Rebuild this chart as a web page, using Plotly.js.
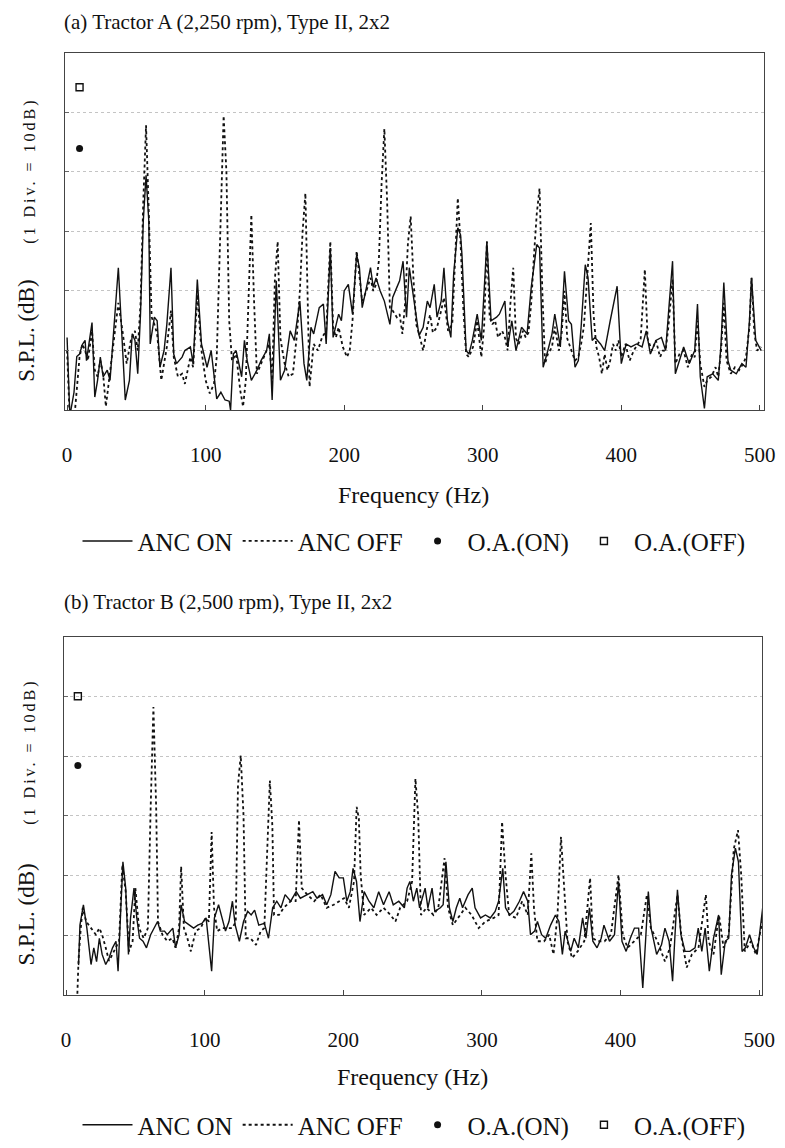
<!DOCTYPE html>
<html>
<head>
<meta charset="utf-8">
<script src="https://cdn.plot.ly/plotly-3.0.1.min.js"></script>
<style>html,body{margin:0;padding:0;background:#fff;}#chart{width:785px;height:1148px;}</style>
</head>
<body>
<div id="chart"></div>
<script>
// ---------- DATA (dB relative, 10 dB per division) ----------
const seriesNames = ["ANC ON", "ANC OFF", "O.A.(ON)", "O.A.(OFF)"];
const panelTitles = ["(a) Tractor A (2,250 rpm), Type II, 2x2", "(b) Tractor B (2,500 rpm), Type II, 2x2"];
const xTickVals = [0, 100, 200, 300, 400, 500];
const xTickText = ["0", "100", "200", "300", "400", "500"];

// Panel (a) ANC ON
const freqA_on = [0,1,2,5,7,9,11,13,14,18,20,22,24,26,29,31,33,37,39,42,45,47,49,51,53,55,57,59,60,63,65,67,70,72,75,77,79,83,85,89,91,94,97,101,104,108,111,114,117,118,120,122,126,128,130,133,137,140,144,146,148,151,154,157,161,164,168,171,173,176,178,182,185,187,190,192,196,198,200,203,206,209,211,213,215,217,219,221,223,226,229,233,235,238,240,242.5,245,247,249,252,254,257,260,262,265,267,270,272,274.5,277,279,282,284,285,288,290,292.5,296,299,303,306,310,312,316,318,321,324,328,332,335,339,341,343.6,347,350,352,356,359,362,364,366.6,369,371,374,376,379,381,385,388,392,394,397,400,403.5,407,411,415,418,421,425,429,432,434,437,439,442,445,449,453,455,457,460,462,466,470,472,474,477,479,483,487,490,492.5,494,497,501];
const splA_on = [12.2,5,-1,3,9,9.4,11,11.7,8.3,14.7,2.2,5,8.9,5.6,6.7,5,11.7,23.9,15,1.7,5,12.8,11.7,6.1,16.1,31.7,39.4,31.7,11.1,15.6,15,7.2,10,14.4,23.9,9.4,7.8,8.9,10,10.6,7.8,21.9,11.1,7.2,10,1.9,3,1.7,1.5,0,9.4,10,5.6,11.7,8.3,5,6.7,8.3,10,12.8,1.7,21.7,5,6.7,13.3,11.7,18.3,7.8,5,13.9,12.8,17.2,17.8,11.1,27.2,12.2,16.1,15,20,21.1,16.1,26.1,23.9,17.2,19.4,21.7,23.9,20.6,22.2,20,18.3,14.4,18.9,20.6,21.7,25,15.6,23.9,20.6,15,12.5,13.9,18.3,17.2,21.1,15.6,18.3,23.9,15,12.2,22.8,30.6,29.4,26.1,10,9.4,11.7,16.1,11.7,28.3,15,15.6,16.1,18.3,10.6,15,10,13.9,12.8,20.6,27.8,27.2,7.2,10,12.8,16.1,10.6,23.3,15,14.4,7.2,8.3,13.9,24.4,22.2,11.7,12.2,11.1,10,15,17.2,20.8,7.8,11.1,10.6,11.1,10.6,13.3,9.4,11.7,12.2,10,16.1,25,6.1,8.3,10.6,7.8,10,17.8,5.6,0.3,5.6,6.1,5,11.1,21.4,8.3,6.7,6.1,7.8,7.2,15,22.2,11.7,10];

// Panel (a) ANC OFF
const freqA_off = [0,2,5,7,9,11,13,15,18,20,22,24,26,28,30,33,37,40,43,46,49,51,53,55,57,59,61,63,65,68,70,72,75,77,80,83,85,87,89,91,94,97,100,103,106,108,110,112,113,115,117,119,122,125,127,129,131,133,135,137,140,143,146,148,150,152,154,157,160,163,166,168,170,172,174,175,178,181,184,187,190,192,194,196,199,202,204,206,209,211,213,216,219,221,223,225,227,229,231,233,235,238,240,242,244,246,248,250,252,254,257,260,262,264,267,270,272,275,278,280,282,284,286,288,290,293,296,299,301,303,305,307,309,311,314,316,318,320,322,324,326,329,331,333,335,337,339,341,343,345,347,350,352,355,357,359,361,364,366.6,369,371,373,376,378,380,382,384,386,388,390,392,394,396,398,400,403,406,409,412,414,417,419,422,425,428,430,432,434,437,439,442,445,448,451,453,455,457,460,462,465,468,470,472,474,476,479,482,485,488,490,492.5,494,496,498,501];
const splA_off = [10,-2,-2,4,8.9,11.1,10,8.3,13.3,6.7,5.6,8.3,6.1,0.6,4.4,10.6,18,13.3,7.8,11.7,13.3,10,17.8,35,47.8,33,15.6,14.4,12.8,5,7.8,10.6,16.7,8.9,5.6,6.1,4.4,6.7,8.9,7.2,19.4,10,5,2.8,4.4,8.9,25,45,49.4,40,15,8.3,9.4,3.3,0.6,5,20,32.8,18,6.1,7.8,9.4,11.1,5,22,28.3,12,7.8,5.6,6.1,13,20,30,36.4,15,3.9,11.1,10,12.2,13.3,28.3,14,12.2,13.9,10.6,8.9,10,15,26.7,22,18.3,20,22.2,20,21.1,25,38,47.2,35,17,16.7,15.6,16.1,12.8,18,28,32.5,22,14.4,12.8,10,14,16,13,13.9,16.7,18.9,13.3,14.4,25,35.6,28,17,9.4,8.9,10.6,15,8.9,14,28.3,15.6,14.4,15,12.2,13.3,12.2,10,18,23.9,12,11.1,13.3,12.2,13,18,26,33,37.2,20,7.8,9.4,10.6,14,10,13,20,12,10,8.3,8.9,11.1,14,24,31.4,16,10.6,8.9,6.1,9.4,6.7,8.3,11.1,10,11.7,8.9,11.1,8.3,10,11.1,12,23.6,12,10,11.7,8.9,10,10,14,22,7.8,9.4,10,7.2,9.4,8.9,15,7.8,3.9,5,5.6,7.2,5.6,10,18,8.3,6.1,7.2,6.7,7.8,8.9,14,22.2,13,10,10.6];

// Panel (b) ANC ON
const freqB_on = [9,10,12.5,15,18,20,22,24,26,28.6,31,33.5,36,37.5,39.5,41,43,45,46.5,49,51,53,55.5,58,61,63.5,66,68,71,73,77,79,81.5,83,85.5,89,92,95,98,101,105,107,110,112.5,115,117.5,120,122,125,128,131,133.5,136,139,143,146,149,152,155,158,162,166,169,174,178,181,185,188,191,194,197,200,202.5,205,207,209.5,212,215,218.5,222,225.5,229,233,236,240,244,246,248,250.5,253,255,259,261,264,266,270,272,274,276.5,279,281.5,284,286,290,293,295,299,302.5,306,309.5,312,315,317,320,323,327,330,333,335,338,340,343,346,349.5,353,355.5,358,360,364,366.5,369.5,372.6,375,377.5,380,383,386,388,392,395.6,398.5,401,404,407,410,413,416,418,420,422,426,429.5,432,435,437.5,439,441,443.5,446.5,450,453.7,456,458.6,461,464,467,470.7,472.6,475.5,478,480,482.8,485,487.6,490,493,496,498.5,501,502.5];
const splB_on = [5,11.7,15.1,11.2,5.1,7.9,5.6,9.5,6.8,5.1,6.2,7.9,9,4,14.6,22.3,17.9,6.8,12.9,17.9,12.9,9.5,9,7.9,10.1,11.2,12.3,10.7,10.7,10.1,11.2,7.9,10.1,15.1,12.3,11.7,11.2,11.7,12,12.9,4,12.9,15.1,12.9,10.7,12.3,15.7,11.7,9,12.3,14,13.4,14.2,11.7,12,9.5,14.6,15.7,14.6,16.8,15.7,17.3,16.2,16.8,17.3,16.2,16.8,15.1,16.8,20.7,19.6,19.6,15.7,17.3,21.2,19,12.3,17.3,15.7,14.6,17.3,15.1,17.3,15.1,15.7,14.6,17.9,19,15.7,17.9,14.6,17.9,14.6,17.9,14,14.6,15.1,22.3,14.6,12.3,14.6,16.2,14.6,16.8,17.9,14.6,12.9,13.4,12.9,14,15.7,21.2,14.6,13.4,14,15.7,17.3,15.7,10.1,10.7,12.3,10.1,9.5,11.7,13.4,12.3,6.8,10.7,7.3,9.5,7.9,12.9,9.5,14.6,9,7.9,9.5,11.7,9,10.1,19,9,7.3,9.5,11.2,11.2,1.2,9,17.3,11.2,6.8,8.4,11.2,9,2.3,9,17.6,10.1,7.3,7.3,7.9,11.2,7.3,11.2,4,9.5,13.4,3.4,9,9.5,20.1,24.6,22.3,7.3,7.9,10.1,7.9,6.8,11.2,14.6];

// Panel (b) ANC OFF
const freqB_off = [8,9,10.6,12,14.5,18,21.5,24,26,28.6,31,33.4,36,38.2,40.6,43,45.4,48,50,52.6,56,59,61,63,65,66.3,69.5,73,76.7,79,81.5,83,85,87.5,90,93.5,97,100.7,103,105,106.7,109,112.7,116,120,122.4,124,126,128,129.6,133,137,140.4,143,145.7,147,148.8,150,153.6,157,162,165.6,168,170,174,179,183.6,188,193,197,200.5,204,207.7,209.6,211.2,212.5,215,220,224,229,234,237.6,241,246,249.6,252,254,256,260,265,268.5,273,275.5,279,284,288,292.5,297.6,302.5,308.5,312,314.5,317,319.6,324.5,329,333,335.6,337.5,340,344.8,348.5,351.6,354.5,357,359.3,361.7,365,369,373.8,378,380,383.5,388.4,393,398.5,401.6,405,410,414.6,419,421.8,426.6,432,435.6,441,444,447.7,451.4,456.2,461.5,463.5,467,471,474.3,478,481.6,484.7,487,489.6,494,497.6,501.3,503];
const splB_off = [-0.8,6,11.2,14.6,12.3,11.2,10.1,11.2,10.1,7.9,5.7,6.8,7.9,9,21.8,17.3,7.3,9,17.9,11.2,9.5,11.2,31.2,48.2,31.2,12.3,10.1,9,9.5,7.9,11.2,21.5,11.2,9.5,7.3,10.7,11.2,12.9,12.3,27.3,14.6,10.7,11.2,11.2,11.2,12.3,35.1,40.1,30,9.5,9.5,8.4,10.7,11.2,27.9,35.9,28.3,13.4,13.4,14.6,15.7,15.7,29.3,17.9,16.8,15.7,16.8,14.6,15.1,15.7,16.2,14.6,19,31.5,29.5,20.1,13.4,14.6,13.4,14.6,13.4,12.3,14.6,15.7,19,36.2,30,13.4,14.6,13.4,14.6,22.9,14.6,11.7,13.4,14.6,13.4,11.2,12.3,12.9,13.4,29,20.1,13.4,12.9,15.7,13.4,23.7,14.6,9,9,10.1,6.8,13.4,26.5,17.9,9,6.2,7.3,9,19.6,9.5,9,9,10.1,20.1,10.1,7.9,9,10.1,16.8,11.2,9,5.6,7.9,16.8,9.5,4.6,6.8,7.9,16.8,9,6.8,13.4,7.9,10.1,24.4,27.6,20.1,7.3,9,6.8,11.2,13.4];

// Overall (O.A.) levels, plotted at the left edge
const oaFreqA = [9];
const oaOnA = [43.9];
const oaOffA = [54.2];
const oaFreqB = [8.5];
const oaOnB = [38.4];
const oaOffB = [50];

// ---------- STYLE / LAYOUT ----------
const FONT = "Liberation Serif, Times New Roman, serif";
const W = 785, H = 1148;
const fx = p => p / W;           // pixel -> paper x
const fy = p => 1 - p / H;       // pixel -> paper y

function traces(fOn, vOn, fOff, vOff, oaF, oaOn, oaOff, xa, ya, lg) {
  return [
    {x: fOn, y: vOn, type: "scatter", mode: "lines", name: seriesNames[0], xaxis: xa, yaxis: ya, legend: lg,
     line: {color: "#111", width: 1.4}},
    {x: fOff, y: vOff, type: "scatter", mode: "lines", name: seriesNames[1], xaxis: xa, yaxis: ya, legend: lg,
     line: {color: "#111", width: 1.8, dash: "dot"}},
    {x: oaF, y: oaOn, type: "scatter", mode: "markers", name: seriesNames[2], xaxis: xa, yaxis: ya, legend: lg,
     marker: {symbol: "circle", size: 7, color: "#111"}},
    {x: oaF, y: oaOff, type: "scatter", mode: "markers", name: seriesNames[3], xaxis: xa, yaxis: ya, legend: lg,
     marker: {symbol: "square-open", size: 7, color: "#111", line: {width: 1.4}}}
  ];
}

const data = [
  ...traces(freqA_on, splA_on, freqA_off, splA_off, oaFreqA, oaOnA, oaOffA, "x", "y", "legend"),
  ...traces(freqB_on, splB_on, freqB_off, splB_off, oaFreqB, oaOnB, oaOffB, "x2", "y2", "legend2")
];

function xAxis(domain, range, anchor) {
  return {
    domain: domain, range: range, anchor: anchor,
    tickmode: "array", tickvals: xTickVals, ticktext: xTickText,
    ticks: "inside", ticklen: 5, tickcolor: "#444", tickwidth: 1,
    ticklabelstandoff: 26,
    showline: true, mirror: true, linecolor: "#444", linewidth: 1,
    showgrid: false, zeroline: false,
    tickfont: {family: FONT, size: 21, color: "#111"}
  };
}
function yAxis(domain, anchor) {
  return {
    domain: domain, range: [0, 60], anchor: anchor,
    tick0: 0, dtick: 10, showticklabels: false,
    ticks: "inside", ticklen: 4, tickcolor: "#666",
    showline: true, mirror: true, linecolor: "#444", linewidth: 1,
    showgrid: true, gridcolor: "#c4c4c4", griddash: "dot", gridwidth: 1,
    zeroline: false
  };
}

const txt = {family: FONT, size: 21, color: "#111"};
const big = {family: FONT, size: 24, color: "#111"};
const leg = {family: FONT, size: 25, color: "#111"};
const ann = (text, x, y, opts) => Object.assign({text: text, x: x, y: y, xref: "paper", yref: "paper",
  showarrow: false, font: txt}, opts || {});
const divText = '<span style="letter-spacing:3px">(1 Div. = 10dB)</span>';

const layout = {
  width: W, height: H,
  margin: {l: 0, r: 0, t: 0, b: 0},
  paper_bgcolor: "#fff", plot_bgcolor: "#fff",
  font: {family: FONT, color: "#111"},
  showlegend: true,
  xaxis: xAxis([fx(65), fx(764)], [-1.5, 503], "y"),
  yaxis: yAxis([fy(413), fy(53)], "x"),
  xaxis2: xAxis([fx(64), fx(762)], [-1.5, 502], "y2"),
  yaxis2: yAxis([fy(1002), fy(641)], "x2"),
  legend: {orientation: "h", x: fx(414), xanchor: "center", y: fy(545), yanchor: "middle",
           font: leg, bgcolor: "rgba(0,0,0,0)", itemwidth: 50, traceorder: "normal"},
  legend2: {orientation: "h", x: fx(414), xanchor: "center", y: fy(1133), yanchor: "middle",
            font: leg, bgcolor: "rgba(0,0,0,0)", itemwidth: 50, traceorder: "normal"},
  annotations: [
    ann(panelTitles[0], fx(62), fy(22), {xanchor: "left", yanchor: "middle"}),
    ann(panelTitles[1], fx(62), fy(606), {xanchor: "left", yanchor: "middle"}),
    ann("Frequency (Hz)", fx(413), fy(498), {xanchor: "center", yanchor: "middle", font: big}),
    ann("Frequency (Hz)", fx(412), fy(1085), {xanchor: "center", yanchor: "middle", font: big}),
    ann("S.P.L. (dB)", fx(27), fy(333), {xanchor: "center", yanchor: "middle", textangle: -90,
        font: {family: FONT, size: 23, color: "#111"}}),
    ann(divText, fx(30), fy(172), {xanchor: "center", yanchor: "middle", textangle: -90,
        font: {family: FONT, size: 16, color: "#111"}}),
    ann("S.P.L. (dB)", fx(27), fy(921), {xanchor: "center", yanchor: "middle", textangle: -90,
        font: {family: FONT, size: 23, color: "#111"}}),
    ann(divText, fx(30), fy(757), {xanchor: "center", yanchor: "middle", textangle: -90,
        font: {family: FONT, size: 16, color: "#111"}})
  ]
};

Plotly.newPlot("chart", data, layout, {staticPlot: true, displayModeBar: false});
</script>
</body>
</html>
